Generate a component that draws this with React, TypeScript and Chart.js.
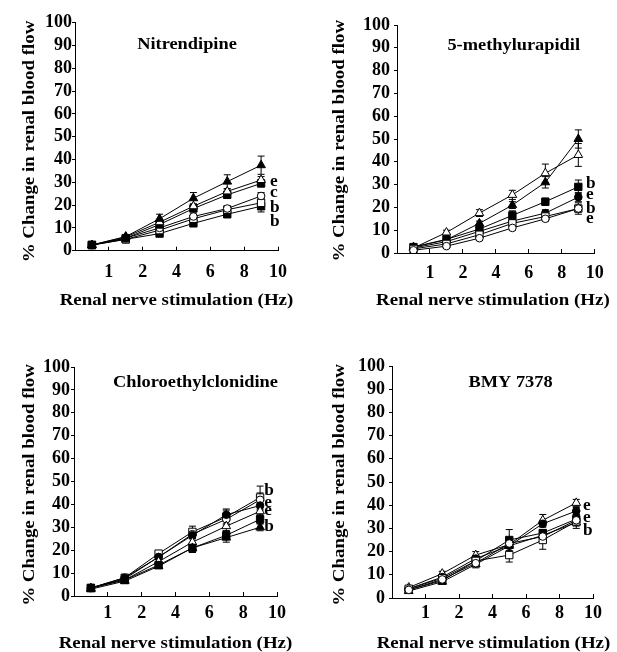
import React, { useEffect, useRef } from 'react';
import { Chart, registerables } from 'chart.js';

Chart.register(...registerables);

const SERIF = '"Liberation Serif", "Times New Roman", Times, serif';
const STRETCH = 1.08;

// ---------- shared axis data ----------
const xSlots = [0.5, 1.5, 2.5, 3.5, 4.5, 5.5];
const xTickLabels = ['', '1', '2', '4', '6', '8', '10'];
const xTitle = 'Renal nerve stimulation (Hz)';
const yTitle = '% Change in renal blood flow';

// ---------- Panel 1: Nitrendipine ----------
const nitTitle = 'Nitrendipine';
const nitFilledTri = [2.5, 6.2, 14, 23, 30.3, 37.5];
const nitFilledTriErr = [0.5, 0.8, 2, 2.5, 3, 4];
const nitOpenTri = [2.5, 6, 12.5, 19.5, 26, 31];
const nitOpenTriErr = [0, 0.5, 1, 1, 1, 1.5];
const nitFilledCircle = [2.5, 5.5, 11.5, 18.5, 24.5, 29.5];
const nitFilledCircleErr = [0, 0.5, 1, 1, 1.2, 1.5];
const nitOpenCircle = [2.5, 5.5, 10, 15, 18.5, 24];
const nitOpenCircleErr = [0, 0.5, 1, 1, 1, 1.5];
const nitOpenSquare = [2.5, 5, 9, 14, 18, 21];
const nitOpenSquareErr = [0, 0.5, 1, 1, 1.5, 2];
const nitFilledSquare = [2.5, 5, 7.5, 12, 16, 19.5];
const nitFilledSquareErr = [0, 0.5, 1, 1, 1.5, 2.5];
const nitLetters = ['e', 'c', 'b', 'b'];
const nitLetterValues = [28.4, 23.4, 17.1, 10.8];

// ---------- Panel 2: 5-methylurapidil ----------
const mePTitle = '5-methylurapidil';
const meFilledTri = [2.6, 5.8, 13, 21, 31, 50];
const meFilledTriErr = [0.5, 1, 1, 1.5, 2.5, 4];
const meOpenTri = [2.2, 9, 17.5, 25.5, 35, 43];
const meOpenTriErr = [0.5, 1, 1.5, 2, 4, 5];
const meFilledSquare = [2.6, 6, 10.5, 16.5, 22.5, 29];
const meFilledSquareErr = [0.5, 1, 2, 2, 1.5, 3];
const meFilledCircle = [2.2, 5, 9.5, 14, 17.5, 24.5];
const meFilledCircleErr = [0, 1, 1.5, 1.5, 1.5, 2];
const meOpenSquare = [1.8, 4, 8, 13, 16, 19.5];
const meOpenSquareErr = [0, 1, 1, 1, 1, 2.5];
const meOpenCircle = [1.2, 3, 6.5, 11, 15, 19.5];
const meOpenCircleErr = [0, 0.5, 1, 1, 1, 1.5];
const meLetters = ['b', 'e', 'b', 'e'];
const meLetterValues = [28.5, 23.6, 17.5, 13.1];

// ---------- Panel 3: Chloroethylclonidine ----------
const ceTitle = 'Chloroethylclonidine';
const ceOpenSquare = [3.5, 8, 18.5, 28, 34.5, 43];
const ceOpenSquareErr = [0.5, 0.5, 1, 2.5, 3.5, 5];
const ceOpenCircle = [3.5, 7.5, 17, 27, 33.5, 42];
const ceOpenCircleErr = [0, 0.5, 1, 1.5, 2, 3];
const ceFilledCircle = [3.5, 8, 17, 26.5, 35.5, 39.5];
const ceFilledCircleErr = [0, 0.5, 1, 1.5, 2, 2];
const ceOpenTri = [3.5, 7, 15, 23.5, 30.5, 37];
const ceOpenTriErr = [0, 0.5, 1, 1.5, 2, 2];
const ceFilledSquare = [3.5, 7, 13.5, 21, 26.5, 33.5];
const ceFilledSquareErr = [0, 0.5, 1, 2, 2, 2];
const ceFilledTri = [3, 6.5, 13, 21, 25.5, 30];
const ceFilledTriErr = [0, 0.5, 1, 2, 2, 1.5];
const ceLetters = ['b', 'e', 'e', 'b'];
const ceLetterValues = [44, 39, 35.3, 28.5];

// ---------- Panel 4: BMY 7378 ----------
const bmyTitle = 'BMY 7378';
const bmyOpenTri = [4.5, 10.5, 18.5, 23, 33.5, 41];
const bmyOpenTriErr = [0.5, 1, 1.5, 1, 2.5, 1.5];
const bmyFilledCircle = [4, 9, 17, 22.5, 32, 37.5];
const bmyFilledCircleErr = [0.5, 0.5, 1, 1, 1.5, 1.5];
const bmyFilledSquare = [3.5, 7.5, 16, 25, 28, 34];
const bmyFilledSquareErr = [0.5, 0.5, 1.5, 4.5, 1.5, 2];
const bmyOpenSquare = [4, 8.5, 16, 18.5, 25, 33];
const bmyOpenSquareErr = [0.5, 0.5, 1, 3, 4, 2];
const bmyFilledTri = [3, 7, 14.5, 22.5, 27, 32.5];
const bmyFilledTriErr = [0.5, 0.5, 1.5, 1, 1.5, 2.5];
const bmyOpenCircle = [3.5, 8, 15, 23.5, 26.5, 33.5];
const bmyOpenCircleErr = [0, 0.5, 1, 1, 1, 1.5];
const bmyLetters = ['e', 'e', 'b'];
const bmyLetterValues = [37.8, 32.8, 27];

// ---------- marker styles ----------
const MARKERS: Record<string, { style: string; fill: string; r: number }> = {
  filledTri: { style: 'triangle', fill: '#000', r: 5 },
  openTri: { style: 'triangle', fill: '#fff', r: 5 },
  filledCircle: { style: 'circle', fill: '#000', r: 3.8 },
  openCircle: { style: 'circle', fill: '#fff', r: 3.8 },
  filledSquare: { style: 'rect', fill: '#000', r: 5.2 },
  openSquare: { style: 'rect', fill: '#fff', r: 5.2 },
};

type SeriesDef = { values: number[]; errors: number[]; marker: string };

const panels = [
  {
    title: nitTitle,
    titleX: 3.31, titleY: 88.3,
    letters: nitLetters, letterValues: nitLetterValues, letterX: 5.76,
    series: [
      { values: nitFilledTri, errors: nitFilledTriErr, marker: 'filledTri' },
      { values: nitOpenTri, errors: nitOpenTriErr, marker: 'openTri' },
      { values: nitFilledCircle, errors: nitFilledCircleErr, marker: 'filledSquare' },
      { values: nitOpenCircle, errors: nitOpenCircleErr, marker: 'openCircle' },
      { values: nitOpenSquare, errors: nitOpenSquareErr, marker: 'openSquare' },
      { values: nitFilledSquare, errors: nitFilledSquareErr, marker: 'filledSquare' },
    ] as SeriesDef[],
    layout: { left: 0, top: 0, w: 308, h: 326, padTop: 22.7, padRight: 30, yWidth: 75, xHeight: 75.3,
      xTickPad: 14.5, yTickPad: 0, xTitleDx: 0, xTitleDy: 54.3, yTitleDx: 41, yTitleDy: 4.8 },
  },
  {
    title: mePTitle,
    titleX: 3.54, titleY: 89,
    letters: meLetters, letterValues: meLetterValues, letterX: 5.73,
    series: [
      { values: meOpenCircle, errors: meOpenCircleErr, marker: 'openCircle' },
      { values: meOpenSquare, errors: meOpenSquareErr, marker: 'openSquare' },
      { values: meFilledCircle, errors: meFilledCircleErr, marker: 'filledCircle' },
      { values: meFilledSquare, errors: meFilledSquareErr, marker: 'filledSquare' },
      { values: meOpenTri, errors: meOpenTriErr, marker: 'openTri' },
      { values: meFilledTri, errors: meFilledTriErr, marker: 'filledTri' },
    ] as SeriesDef[],
    layout: { left: 308, top: 0, w: 309, h: 326, padTop: 25, padRight: 20, yWidth: 89, xHeight: 73,
      xTickPad: 13.2, yTickPad: 4, xTitleDx: -3, xTitleDy: 52, yTitleDx: 53, yTitleDy: 1.7 },
  },
  {
    title: ceTitle,
    titleX: 3.59, titleY: 91.4,
    letters: ceLetters, letterValues: ceLetterValues, letterX: 5.62,
    series: [
      { values: ceFilledTri, errors: ceFilledTriErr, marker: 'filledTri' },
      { values: ceFilledSquare, errors: ceFilledSquareErr, marker: 'filledSquare' },
      { values: ceOpenTri, errors: ceOpenTriErr, marker: 'openTri' },
      { values: ceFilledCircle, errors: ceFilledCircleErr, marker: 'filledCircle' },
      { values: ceOpenCircle, errors: ceOpenCircleErr, marker: 'openCircle' },
      { values: ceOpenSquare, errors: ceOpenSquareErr, marker: 'openSquare' },
    ] as SeriesDef[],
    layout: { left: 0, top: 326, w: 308, h: 326, padTop: 41, padRight: 31, yWidth: 74, xHeight: 56,
      xTickPad: 10.2, yTickPad: 1, xTitleDx: 0, xTitleDy: 52, yTitleDx: 40, yTitleDy: 3.5 },
  },
  {
    title: bmyTitle,
    titleX: 3.54, titleY: 91.1,
    letters: bmyLetters, letterValues: bmyLetterValues, letterX: 5.7,
    series: [
      { values: bmyOpenCircle, errors: bmyOpenCircleErr, marker: 'openCircle' },
      { values: bmyOpenSquare, errors: bmyOpenSquareErr, marker: 'openSquare' },
      { values: bmyFilledTri, errors: bmyFilledTriErr, marker: 'filledTri' },
      { values: bmyFilledSquare, errors: bmyFilledSquareErr, marker: 'filledSquare' },
      { values: bmyFilledCircle, errors: bmyFilledCircleErr, marker: 'filledCircle' },
      { values: bmyOpenTri, errors: bmyOpenTriErr, marker: 'openTri' },
    ] as SeriesDef[],
    layout: { left: 308, top: 326, w: 309, h: 326, padTop: 40, padRight: 24, yWidth: 84, xHeight: 54,
      xTickPad: 8.2, yTickPad: 4, xTitleDx: 1, xTitleDy: 50, yTitleDx: 48, yTitleDy: 3 },
  },
];

// ---------- plugins ----------
const errorBarPlugin = {
  id: 'errorBars',
  beforeDatasetsDraw(chart: any) {
    const { ctx } = chart;
    const ys = chart.scales.y;
    chart.data.datasets.forEach((ds: any, i: number) => {
      const meta = chart.getDatasetMeta(i);
      const errs: number[] = ds.errors || [];
      meta.data.forEach((pt: any, j: number) => {
        const e = errs[j];
        if (!e) return;
        const v = ds.data[j].y;
        const top = ys.getPixelForValue(v + e);
        const bot = ys.getPixelForValue(v - e);
        ctx.save();
        ctx.strokeStyle = '#000';
        ctx.lineWidth = 1;
        ctx.beginPath();
        ctx.moveTo(pt.x, top);
        ctx.lineTo(pt.x, bot);
        ctx.moveTo(pt.x - 3.5, top);
        ctx.lineTo(pt.x + 3.5, top);
        ctx.moveTo(pt.x - 3.5, bot);
        ctx.lineTo(pt.x + 3.5, bot);
        ctx.stroke();
        ctx.restore();
      });
    });
  },
};

const panelTextPlugin = {
  id: 'panelText',
  afterDraw(chart: any, _args: any, opts: any) {
    const { ctx, chartArea, scales } = chart;
    const xs = scales.x;
    const ys = scales.y;
    const draw = (text: string, x: number, y: number, size: number, align: CanvasTextAlign, rot = 0) => {
      ctx.save();
      ctx.translate(x, y);
      if (rot) ctx.rotate(rot);
      ctx.scale(STRETCH, 1);
      ctx.font = `bold ${size}px ${SERIF}`;
      ctx.fillStyle = '#000';
      ctx.textAlign = align;
      ctx.textBaseline = 'alphabetic';
      ctx.fillText(text, 0, 0);
      ctx.restore();
    };
    draw(opts.title, xs.getPixelForValue(opts.titleX), ys.getPixelForValue(opts.titleY), 17, 'center');
    (opts.letters as string[]).forEach((t, i) =>
      draw(t, xs.getPixelForValue(opts.letterX), ys.getPixelForValue(opts.letterValues[i]), 16, 'left'),
    );
    draw(xTitle, (chartArea.left + chartArea.right) / 2 + opts.xTitleDx, chartArea.bottom + opts.xTitleDy, 17.5, 'center');
    draw(yTitle, chartArea.left - opts.yTitleDx, (chartArea.top + chartArea.bottom) / 2 + opts.yTitleDy, 17.5, 'center', -Math.PI / 2);
  },
};

function Panel({ p }: { p: (typeof panels)[number] }) {
  const ref = useRef<HTMLCanvasElement>(null);
  const L = p.layout;
  useEffect(() => {
    if (!ref.current) return;
    const tickFont = { family: SERIF, size: 18, weight: 'bold' as const };
    const chart = new Chart(ref.current, {
      type: 'line',
      data: {
        datasets: p.series.map((s) => ({
          data: xSlots.map((x, i) => ({ x, y: s.values[i] })),
          errors: s.errors,
          borderColor: '#000',
          borderWidth: 1,
          tension: 0,
          fill: false,
          pointStyle: MARKERS[s.marker].style,
          pointRadius: MARKERS[s.marker].r,
          pointBackgroundColor: MARKERS[s.marker].fill,
          pointBorderColor: '#000',
          pointBorderWidth: 1,
        })) as any,
      },
      options: {
        animation: false,
        responsive: false,
        maintainAspectRatio: false,
        events: [],
        layout: { padding: { left: 0, right: L.padRight, top: L.padTop, bottom: 0 } },
        plugins: {
          legend: { display: false },
          tooltip: { enabled: false },
          panelText: {
            title: p.title, titleX: p.titleX, titleY: p.titleY,
            letters: p.letters, letterValues: p.letterValues, letterX: p.letterX,
            xTitleDx: L.xTitleDx, xTitleDy: L.xTitleDy, yTitleDx: L.yTitleDx, yTitleDy: L.yTitleDy,
          },
        } as any,
        scales: {
          x: {
            type: 'linear',
            min: 0,
            max: 6,
            afterFit: (s: any) => { s.height = L.xHeight; },
            ticks: {
              stepSize: 1,
              autoSkip: false,
              maxRotation: 0,
              padding: L.xTickPad,
              color: '#000',
              font: tickFont,
              callback: (v: any) => xTickLabels[Math.round(Number(v))] ?? '',
            },
            grid: { drawOnChartArea: false, tickLength: -4, color: '#000', lineWidth: 1 },
            border: { color: '#000', width: 1 },
          },
          y: {
            type: 'linear',
            min: 0,
            max: 100,
            afterFit: (s: any) => { s.width = L.yWidth; },
            ticks: { stepSize: 10, autoSkip: false, padding: L.yTickPad, color: '#000', font: tickFont },
            grid: { drawOnChartArea: false, tickLength: 3, color: '#000', lineWidth: 1 },
            border: { color: '#000', width: 1 },
          },
        },
      } as any,
      plugins: [errorBarPlugin, panelTextPlugin],
    });
    return () => chart.destroy();
  }, []);
  return (
    <canvas
      ref={ref}
      width={L.w}
      height={L.h}
      style={{ position: 'absolute', left: L.left, top: L.top, width: L.w, height: L.h }}
    />
  );
}

export default function App() {
  return (
    <div style={{ position: 'absolute', left: 0, top: 0, width: 617, height: 652, overflow: 'hidden', background: '#fff' }}>
      {panels.map((p, i) => (
        <Panel key={i} p={p} />
      ))}
    </div>
  );
}
